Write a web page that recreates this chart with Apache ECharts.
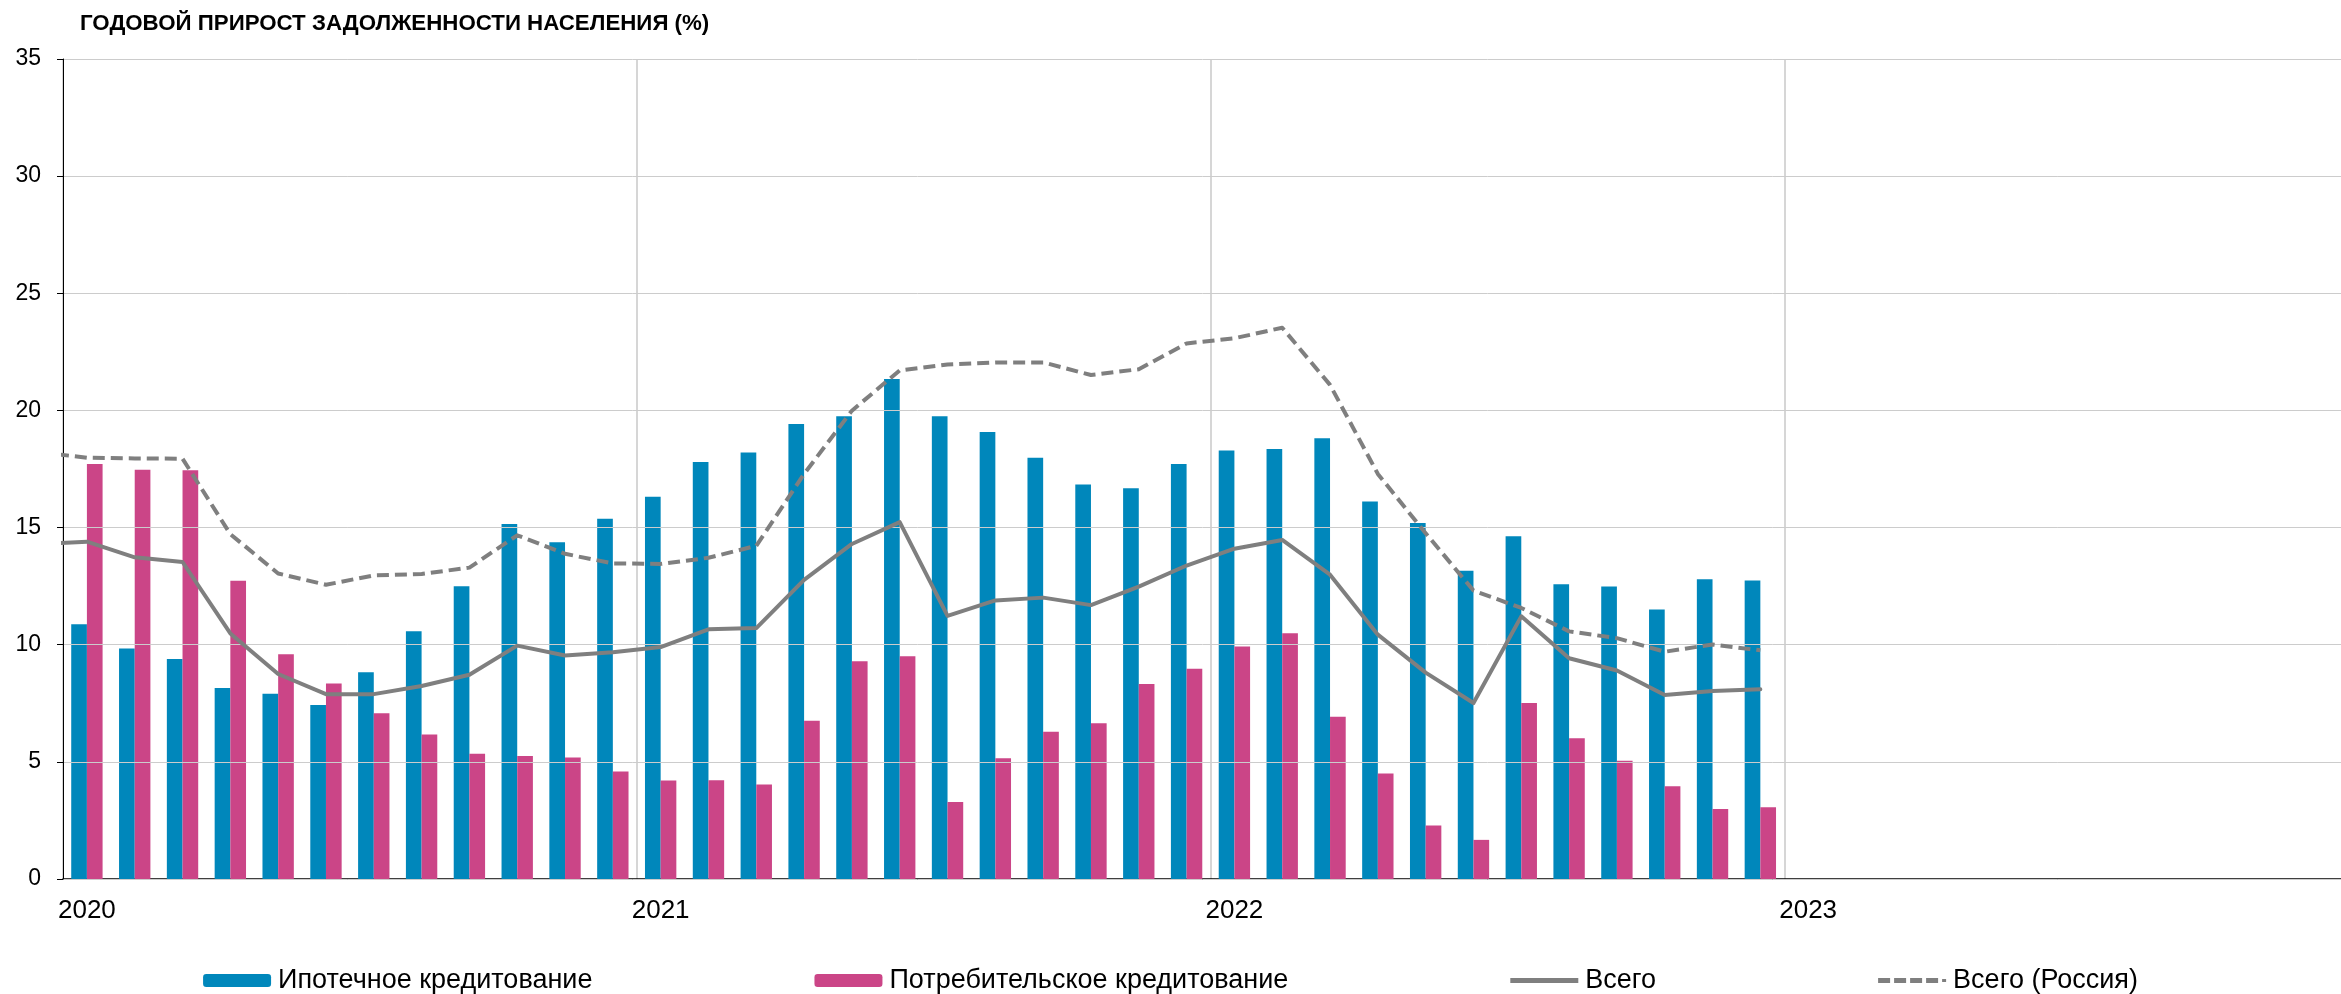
<!DOCTYPE html>
<html lang="ru">
<head>
<meta charset="utf-8">
<title>Годовой прирост задолженности населения</title>
<script src="https://cdn.jsdelivr.net/npm/echarts@6/dist/echarts.min.js"></script>
<style>
  html, body { margin: 0; padding: 0; background: #ffffff; overflow: hidden; }
  #chart { width: 2341px; height: 994px; }
</style>
</head>
<body>
<div id="chart"></div>
<script>
// Year labels along the category axis (12 monthly categories per year)
const years = ['2020', '2021', '2022', '2023'];

// Mortgage lending, annual growth, %, Jan 2020 – Dec 2022
const mortgage = [
  10.87, 9.84, 9.39, 8.15, 7.91, 7.43, 8.82, 10.57, 12.50, 15.15, 14.37, 15.38,
  16.32, 17.80, 18.20, 19.42, 19.75, 21.34, 19.75, 19.08, 17.98, 16.84, 16.68, 17.71,
  18.29, 18.35, 18.81, 16.11, 15.20, 13.16, 14.63, 12.58, 12.48, 11.50, 12.79, 12.74
];

// Consumer lending, annual growth, %, Jan 2020 – Dec 2022
const consumer = [
  17.71, 17.47, 17.45, 12.73, 9.59, 8.34, 7.07, 6.17, 5.35, 5.25, 5.19, 4.59,
  4.20, 4.22, 4.03, 6.75, 9.29, 9.51, 3.29, 5.15, 6.28, 6.65, 8.32, 8.97,
  9.92, 10.49, 6.93, 4.50, 2.28, 1.67, 7.51, 6.01, 5.05, 3.96, 2.99, 3.06
];

// Total, %, Dec 2019 – Dec 2022 (first value is the month before the axis start)
const total = [
  14.30,
  14.40, 13.73, 13.53, 10.48, 8.75, 7.89, 7.89, 8.24, 8.72, 9.96, 9.54, 9.68,
  9.90, 10.66, 10.71, 12.77, 14.30, 15.23, 11.23, 11.89, 12.01, 11.69, 12.48, 13.38,
  14.10, 14.47, 12.99, 10.43, 8.81, 7.51, 11.21, 9.42, 8.90, 7.85, 8.02, 8.10
];

// Total for Russia, %, Dec 2019 – Dec 2022
const totalRussia = [
  18.22,
  17.98, 17.95, 17.94, 14.72, 13.04, 12.56, 12.96, 13.02, 13.29, 14.67, 13.88, 13.47,
  13.45, 13.71, 14.22, 17.29, 19.99, 21.71, 21.96, 22.05, 22.05, 21.51, 21.76, 22.86,
  23.08, 23.53, 21.09, 17.29, 14.76, 12.31, 11.57, 10.57, 10.28, 9.70, 10.01, 9.76
];

const seriesNames = [
  'Ипотечное кредитование',
  'Потребительское кредитование',
  'Всего',
  'Всего (Россия)'
];

const chartTitle = 'ГОДОВОЙ ПРИРОСТ ЗАДОЛЖЕННОСТИ НАСЕЛЕНИЯ (%)';

// Monthly categories, e.g. "2020-01"
const months = [];
years.forEach(function (y) {
  for (let m = 1; m <= 12; m++) {
    months.push(y + '-' + (m < 10 ? '0' + m : '' + m));
  }
});

// Line points sit at month centres on a linear month scale (0 = start of Jan 2020);
// the first point (Dec 2019) lies left of the axis and is clipped by the grid.
function monthPoints(values) {
  return values.map(function (v, i) { return [i - 0.5, v]; });
}

const FONT = "'Liberation Sans', Arial, sans-serif";
const LINE_GREY = '#7f7f7f';

// Legend glyphs for the two line series: a solid stroke and a dashed stroke
const solidIcon = 'path://M0,0H68V5H0Z';
const dashedIcon = 'path://M0,0H12V5H0Z M16,0H28V5H16Z M32,0H44V5H32Z M48,0H60V5H48Z M64,1H68V4H64Z';

const chart = echarts.init(document.getElementById('chart'), null, { renderer: 'canvas' });

chart.setOption({
  animation: false,
  backgroundColor: '#ffffff',
  textStyle: { fontFamily: FONT },
  title: {
    text: chartTitle,
    left: 80,
    top: 13,
    padding: 0,
    textStyle: { fontFamily: FONT, fontSize: 22.3, fontWeight: 'bold', color: '#000000' }
  },
  legend: {
    data: [
      { name: seriesNames[0] },
      { name: seriesNames[1] },
      { name: seriesNames[2], icon: solidIcon, itemStyle: { color: LINE_GREY, borderWidth: 0 } },
      { name: seriesNames[3], icon: dashedIcon, itemStyle: { color: LINE_GREY, borderWidth: 0 } }
    ],
    left: 'center',
    top: 962,
    itemWidth: 68,
    itemHeight: 13,
    itemGap: 222,
    symbolKeepAspect: true,
    textStyle: { fontFamily: FONT, fontSize: 27, color: '#000000', padding: [0, 0, 0, 2] }
  },
  grid: {
    left: 63, right: -17, top: 59, bottom: 115,
    containLabel: false,
    outerBoundsMode: 'none'
  },
  xAxis: [
    {
      type: 'category',
      data: months,
      boundaryGap: true,
      axisLine: { show: true, lineStyle: { color: '#000000', width: 1.5 } },
      axisTick: { show: false },
      axisLabel: {
        interval: 11,
        formatter: function (v) { return v.slice(0, 4); },
        fontFamily: FONT,
        fontSize: 26,
        color: '#000000',
        margin: 19
      },
      splitLine: { show: true, interval: 11, lineStyle: { color: '#c8c8c8', width: 1.5 } }
    },
    { type: 'value', min: 0, max: months.length, show: false }
  ],
  yAxis: {
    type: 'value',
    min: 0,
    max: 35,
    interval: 5,
    z: 3,
    axisLine: { show: true, lineStyle: { color: '#000000', width: 1 } },
    axisTick: { show: true, length: 6, lineStyle: { color: '#000000', width: 1 } },
    axisLabel: { fontFamily: FONT, fontSize: 23, color: '#000000', margin: 22 },
    splitLine: { show: true, lineStyle: { color: '#cccccc', width: 1 } }
  },
  series: [
    {
      name: seriesNames[0],
      type: 'bar',
      xAxisIndex: 0,
      data: mortgage,
      barWidth: '32.8%',
      barGap: '0%',
      itemStyle: { color: '#0087bb' }
    },
    {
      name: seriesNames[1],
      type: 'bar',
      xAxisIndex: 0,
      data: consumer,
      barWidth: '32.8%',
      barGap: '0%',
      itemStyle: { color: '#cb4587' }
    },
    {
      name: seriesNames[2],
      type: 'line',
      xAxisIndex: 1,
      data: monthPoints(total),
      symbol: 'none',
      clip: true,
      z: 3,
      itemStyle: { color: LINE_GREY },
      lineStyle: { color: LINE_GREY, width: 4, cap: 'round', join: 'round' }
    },
    {
      name: seriesNames[3],
      type: 'line',
      xAxisIndex: 1,
      data: monthPoints(totalRussia),
      symbol: 'none',
      clip: true,
      z: 3,
      itemStyle: { color: LINE_GREY },
      lineStyle: { color: LINE_GREY, width: 4, type: [12, 6], cap: 'butt', join: 'round' }
    }
  ]
});
</script>
</body>
</html>
